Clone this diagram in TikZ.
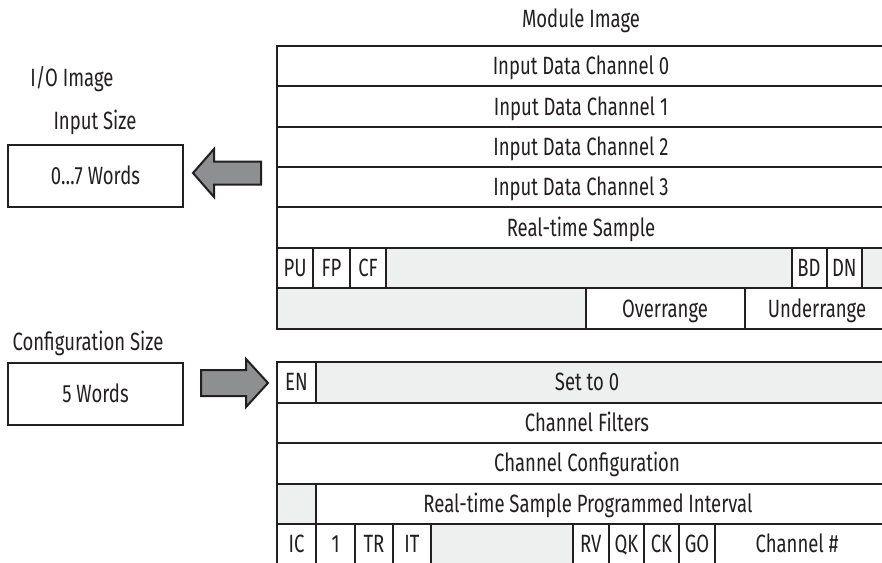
\documentclass[tikz,border=0pt]{standalone}
\usepackage{fontspec}
\setmainfont{Fira Sans}[FakeStretch=0.74]
\definecolor{ink}{HTML}{231F20}
\definecolor{cellgray}{HTML}{EEF0EF}
\definecolor{arrowgray}{HTML}{8E8F91}
\begin{document}
\begin{tikzpicture}[x=1pt,y=-1pt,
  cell/.style={draw=ink, line width=2pt},
  txt/.style={font=\fontsize{25}{30}\selectfont, text=ink, inner sep=0pt, anchor=base},
  sizebox/.style={draw=ink, line width=2pt, minimum width=175pt, minimum height=62pt, inner sep=0pt},
  blockarrow/.style={draw=ink, line width=2pt, fill=arrowgray, line join=miter}
]
\useasboundingbox (0,0) rectangle (882,562);
\begin{scope}
\clip (0,0) rectangle (882,562);
% ---------- Module image (input) ----------
\node[txt] (modimg) at (581,27) {Module Image};
\foreach \ya/\yb in {46/86.4, 86.4/126.7, 126.7/167.1, 167.1/207.4, 207.4/247.8}
  \draw[cell, fill=white] (277,\ya) rectangle (900,\yb);
\node[txt] (in0) at (581,74.9) {Input Data Channel 0};
\node[txt] (in1) at (581,115.25) {Input Data Channel 1};
\node[txt] (in2) at (581,155.6) {Input Data Channel 2};
\node[txt] (in3) at (581,195.95) {Input Data Channel 3};
\node[txt] (rts) at (581,236.3) {Real-time Sample};
% status row
\draw[cell, fill=cellgray] (277,247.8) rectangle (900,288.2);
\foreach \xa/\xb/\t/\n in {277/313/PU/pu, 313/350/FP/fp, 350/386/CF/cf, 791.5/826.6/BD/bd, 826.6/862/DN/dn}{
  \draw[cell, fill=white] (\xa,247.8) rectangle (\xb,288.2);
  \node[txt] (\n) at ({(\xa+\xb)/2},276.7) {\t};
}
% over/under row
\draw[cell, fill=cellgray] (277,288.2) rectangle (585.6,328.5);
\draw[cell, fill=white] (585.6,288.2) rectangle (744.6,328.5);
\draw[cell, fill=white] (744.6,288.2) rectangle (900,328.5);
\node[txt] (over) at (665,317.05) {Overrange};
\node[txt] (under) at (817,317.05) {Underrange};
% ---------- Configuration ----------
\draw[cell, fill=cellgray] (277,362) rectangle (900,402.5);
\draw[cell, fill=white] (277,362) rectangle (316,402.5);
\node[txt] (en) at (296.5,390.95) {EN};
\node[txt] (set0) at (587,390.95) {Set to 0};
\draw[cell, fill=white] (277,402.5) rectangle (900,443);
\node[txt] (filt) at (587,431.45) {Channel Filters};
\draw[cell, fill=white] (277,443) rectangle (900,483.5);
\node[txt] (conf) at (587,471.95) {Channel Configuration};
\draw[cell, fill=white] (277,483.5) rectangle (900,524);
\draw[cell, fill=cellgray] (277,483.5) rectangle (316,524);
\node[txt] (rtspi) at (588,512.45) {Real-time Sample Programmed Interval};
\draw[cell, fill=white] (277,524) rectangle (900,570);
\draw[cell, fill=cellgray] (431,524) rectangle (572.7,570);
\foreach \xa/\xb/\t/\n in {277/316/IC/ic, 316/355/1/one, 355/393/TR/tr, 393/431/IT/it, 572.7/609/RV/rv, 609/644/QK/qk, 644/679/CK/ck, 679/715/GO/go}{
  \draw[cell, fill=white] (\xa,524) rectangle (\xb,570);
  \node[txt] (\n) at ({(\xa+\xb)/2},552.95) {\t};
}
\node[txt] (chn) at (797,552.95) {Channel \#};
% ---------- Left side ----------
\node[txt] (ioimg) at (72,86.7) {I/O Image};
\node[txt] (insize) at (95,129.7) {Input Size};
\node[sizebox] (inbox) at (95.5,176) {};
\node[txt] (inwords) at (95.5,184.7) {0…7 Words};
\node[txt] (cfgsize) at (88,350.7) {Configuration Size};
\node[sizebox] (cfgbox) at (95.5,394) {};
\node[txt] (cfgwords) at (95.5,402.7) {5 Words};
% block arrows
\draw[blockarrow] (193,173) -- (214,149) -- (214,161.5) -- (261,161.5) -- (261,184.5) -- (214,184.5) -- (214,197) -- cycle;
\draw[blockarrow] (268,383) -- (246,359) -- (246,370) -- (201,370) -- (201,396) -- (246,396) -- (246,407) -- cycle;
\end{scope}
\end{tikzpicture}
\end{document}
